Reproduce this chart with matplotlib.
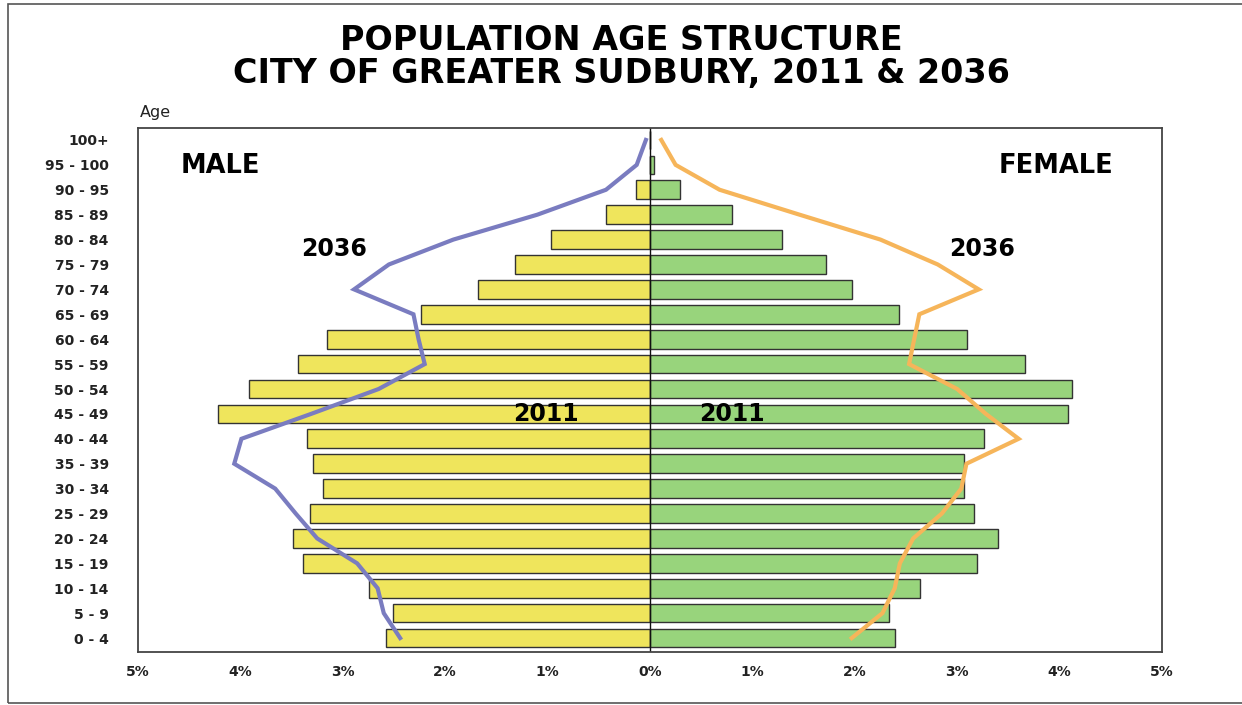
import matplotlib
matplotlib.use("Agg")
import matplotlib.pyplot as plt
import numpy as np
from matplotlib.patches import Rectangle

plt.rcParams['font.family'] = ['DejaVu Sans']

age_groups = ["0 - 4", "5 - 9", "10 - 14", "15 - 19", "20 - 24", "25 - 29", "30 - 34",
              "35 - 39", "40 - 44", "45 - 49", "50 - 54", "55 - 59", "60 - 64", "65 - 69",
              "70 - 74", "75 - 79", "80 - 84", "85 - 89", "90 - 95", "95 - 100", "100+"]

male_2011 = [2.58, 2.51, 2.74, 3.39, 3.49, 3.32, 3.19, 3.29, 3.35, 4.22, 3.92,
             3.44, 3.15, 2.24, 1.68, 1.32, 0.97, 0.43, 0.14, 0.0, 0.0]
female_2011 = [2.39, 2.33, 2.64, 3.19, 3.40, 3.16, 3.07, 3.07, 3.26, 4.08, 4.12,
               3.66, 3.10, 2.43, 1.97, 1.72, 1.29, 0.80, 0.29, 0.04, 0.0]
male_2036 = [2.44, 2.60, 2.66, 2.86, 3.25, 3.46, 3.66, 4.06, 3.99, 3.31, 2.65,
             2.20, 2.26, 2.31, 2.89, 2.55, 1.92, 1.10, 0.43, 0.13, 0.04]
female_2036 = [1.97, 2.27, 2.39, 2.44, 2.57, 2.85, 3.04, 3.09, 3.60, 3.28, 3.00,
               2.53, 2.58, 2.63, 3.21, 2.81, 2.25, 1.46, 0.68, 0.25, 0.11]

x_ticks = [-5, -4, -3, -2, -1, 0, 1, 2, 3, 4, 5]
x_tick_labels = ["5%", "4%", "3%", "2%", "1%", "0%", "1%", "2%", "3%", "4%", "5%"]

W, H = 1242, 705
fig = plt.figure(figsize=(W / 100, H / 100), dpi=100)
fig.patch.set_facecolor("white")

# outer frame
fig.patches.append(Rectangle((8 / W, 2 / H), 1.2, (H - 6) / H, transform=fig.transFigure,
                             fill=False, edgecolor="#555555", linewidth=1.2))

ax = fig.add_axes([138 / W, 1 - 652 / H, (1162 - 138) / W, (652 - 128) / H])

y = np.arange(len(age_groups))
ax.barh(y, -np.array(male_2011), height=0.75, color="#EFE55C", edgecolor="#333333", linewidth=1.0)
ax.barh(y, female_2011, height=0.75, color="#98D47C", edgecolor="#333333", linewidth=1.0)
ax.plot(-np.array(male_2036), y, color="#7A7CC0", linewidth=3.0, solid_joinstyle="miter")
ax.plot(female_2036, y, color="#F6B55A", linewidth=3.0, solid_joinstyle="miter")
ax.axvline(0, color="#111111", linewidth=1.0)

ax.set_xlim(-5, 5)
ax.set_ylim(-0.56, 20.48)
ax.set_yticks(y)
ax.set_yticklabels(age_groups, fontsize=10, fontweight="bold", color="#222222")
ax.set_xticks(x_ticks)
ax.set_xticklabels(x_tick_labels, fontsize=10, fontweight="bold", color="#222222")
ax.tick_params(axis="x", length=0, pad=9)
ax.tick_params(axis="y", length=0, pad=21)
for s in ax.spines.values():
    s.set_color("#444444")
    s.set_linewidth(1.3)

ax.text(-4.585, 18.96, "MALE", fontsize=18.5, fontweight="bold", ha="left", va="center")
ax.text(4.527, 18.96, "FEMALE", fontsize=18.5, fontweight="bold", ha="right", va="center")
ax.text(-3.083, 15.62, "2036", fontsize=17, fontweight="bold", ha="center", va="center")
ax.text(3.239, 15.62, "2036", fontsize=17, fontweight="bold", ha="center", va="center")
ax.text(-1.015, 9.0, "2011", fontsize=17, fontweight="bold", ha="center", va="center")
ax.text(0.80, 9.0, "2011", fontsize=17, fontweight="bold", ha="center", va="center")

fig.text(140 / W, 1 - 113 / H, "Age", fontsize=11.5, color="#222222", ha="left", va="center")
fig.text(621 / W, 1 - 40 / H, "POPULATION AGE STRUCTURE",
         fontsize=24, fontweight="bold", ha="center", va="center")
fig.text(621 / W, 1 - 74 / H, "CITY OF GREATER SUDBURY, 2011 & 2036",
         fontsize=24, fontweight="bold", ha="center", va="center")

fig.savefig("out.png", dpi=100, facecolor="white")
